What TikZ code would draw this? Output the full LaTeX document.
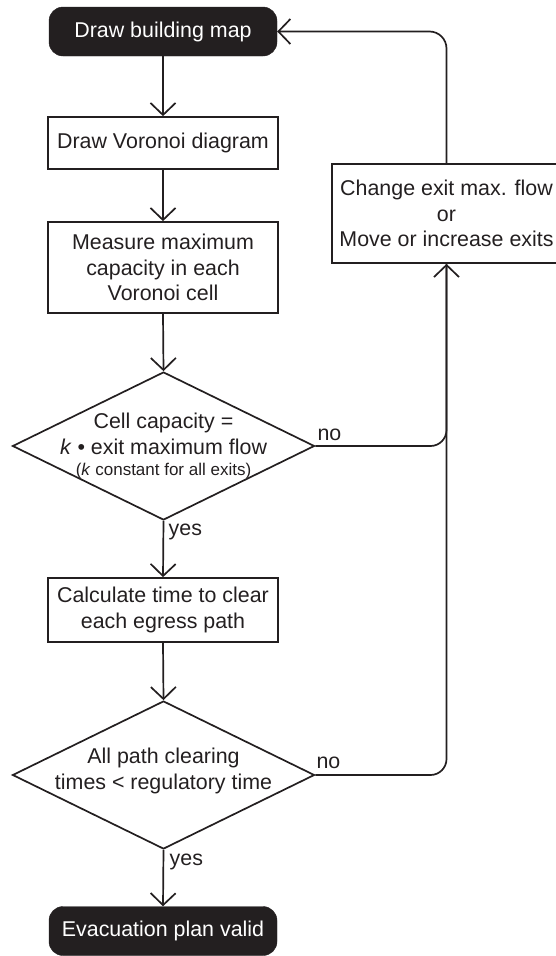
\documentclass[tikz,border=0pt]{standalone}
\usepackage{fontspec}
\setmainfont{Liberation Sans}
\usetikzlibrary{arrows.meta,shapes.geometric}
\definecolor{ink}{HTML}{231F20}
\begin{document}
\begin{tikzpicture}[x=1pt,y=1pt,
  every node/.style={font=\fontsize{21.4}{25.5}\selectfont, text=ink},
  terminal/.style={rectangle, rounded corners=14pt, fill=ink, draw=ink,
    text=white, minimum width=228pt, minimum height=49pt, inner sep=0pt},
  procbox/.style={rectangle, draw=ink, line width=1.7pt, align=center,
    minimum width=230pt, inner sep=0pt},
  decision/.style={diamond, draw=ink, line width=1.7pt, inner sep=0pt,
    minimum width=302pt, minimum height=148pt},
  decisiontext/.style={align=center, inner sep=0pt},
  answer/.style={anchor=base west, inner sep=0pt},
  flow/.style={draw=ink, line width=1.7pt,
    -{Straight Barb[length=12pt,width=25pt,line width=1.7pt]}},
  plain/.style={draw=ink, line width=1.7pt}]

\useasboundingbox (0,0) rectangle (556,-956);

% main column
\node[terminal] (start) at (163,-31.5) {Draw building map};
\node[procbox, minimum height=52pt] (voronoi) at (163,-143) {Draw Voronoi diagram};
\node[procbox, minimum height=91pt] (measure) at (163,-267.5)
  {Measure maximum\\capacity in each\\Voronoi cell};
\node[decision] (cap) at (163.5,-446) {};
\node[decisiontext] (captext) at (cap.center)
  {Cell capacity =\\\textit{k} • exit maximum flow\\[-4pt]
   {\fontsize{17}{20}\selectfont(\textit{k} constant for all exits)}};
\node[procbox, minimum height=64pt] (clear) at (163,-610)
  {Calculate time to clear\\each egress path};
\node[decision] (reg) at (163.5,-775) {};
\node[decisiontext] (regtext) at ([yshift=4pt]reg.center)
  {All path clearing\\times < regulatory time};
\node[terminal] (valid) at (163,-931) {Evacuation plan valid};

% feedback box
\node[procbox, minimum width=229pt, minimum height=99pt] (change) at (446.5,-213.5)
  {Change exit max. flow\\or\\Move or increase exits};

% connectors of the main column
\draw[flow] (start.south) -- (voronoi.north);
\draw[flow] (voronoi.south) -- (measure.north);
\draw[flow] (measure.south) -- (cap.north);
\draw[flow] (cap.south) -- (clear.north);
\draw[flow] (clear.south) -- (reg.north);
\draw[flow] (reg.south) -- (valid.north);

% feedback loop
\draw[plain, rounded corners=16pt] (cap.east) -| (change.south);
\draw[flow, rounded corners=16pt] (reg.east) -| (change.south);
\draw[flow, rounded corners=17pt] (change.north) |- (start.east);

% answer labels
\node[answer] (capno) at ([shift={(2,6)}]cap.east) {no};
\node[answer] (regno) at ([shift={(1,7)}]reg.east) {no};
\node[answer] (capyes) at ([shift={(5,-15)}]cap.south) {yes};
\node[answer] (regyes) at ([shift={(6,-16)}]reg.south) {yes};
\end{tikzpicture}
\end{document}
